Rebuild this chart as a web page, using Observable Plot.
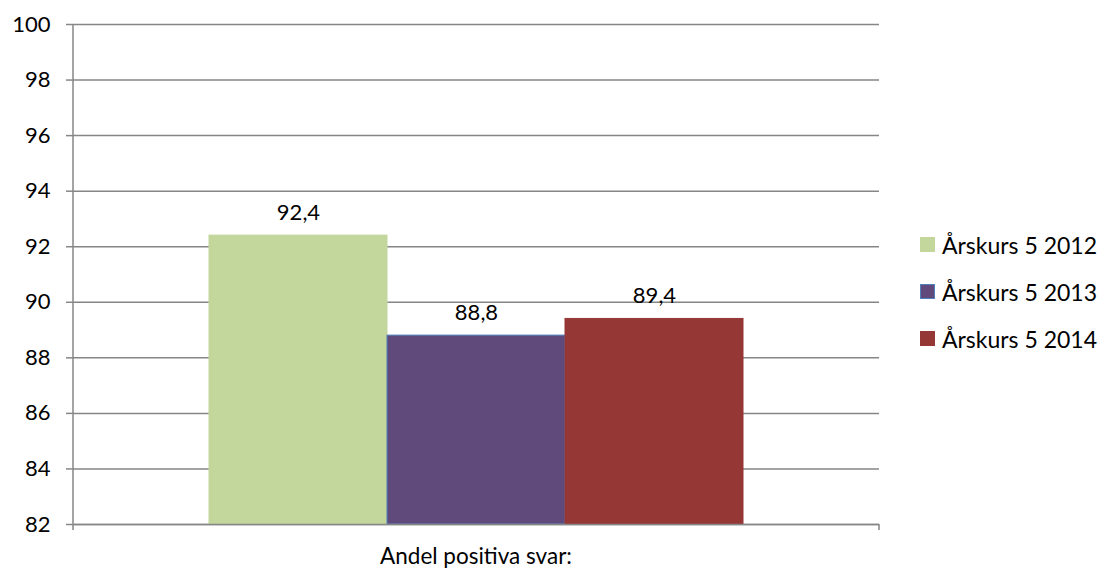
<!DOCTYPE html>
<html>
<head>
<meta charset="utf-8">
<script src="https://cdn.jsdelivr.net/npm/d3@7"></script>
<script src="https://cdn.jsdelivr.net/npm/@observablehq/plot@0.6"></script>
<style>
  html, body { margin: 0; padding: 0; background: #fff; overflow: hidden; }
  #wrap { position: relative; width: 1104px; height: 571px; font-family: Lato, "Open Sans", sans-serif; overflow: hidden; }
  #chart svg { display: block; }
  #legend { position: absolute; left: 920px; top: 221px; font-size: 23px; color: #000; }
  .item { display: flex; align-items: center; height: 47px; white-space: nowrap; }
  .sw { width: 15px; height: 15px; margin-right: 7px; box-sizing: border-box; }
  #xlabel { position: absolute; left: 73px; width: 806px; top: 544px; text-align: center; font-size: 22.5px; line-height: 24px; color: #000; }
</style>
</head>
<body>
<div id="wrap"><div id="chart"></div><div id="legend"></div><div id="xlabel">Andel positiva svar:</div></div>
<script>
const series = ["Årskurs 5 2012", "Årskurs 5 2013", "Årskurs 5 2014"];
const values = [92.4, 88.8, 89.4];
const labels = ["92,4", "88,8", "89,4"];
const colors = ["#C3D69B", "#604A7B", "#953735"];
const strokes = ["#C3D69B", "#4F81BD", "#953735"];
const yTicks = [82, 84, 86, 88, 90, 92, 94, 96, 98, 100];

const data = series.map((s, i) => ({series: s, value: values[i], label: labels[i]}));

const W = 1104, H = 571, mL = 73, mR = 225, mT = 24, mB = 47;

const chart = Plot.plot({
  width: W, height: H,
  marginLeft: mL, marginRight: mR, marginTop: mT, marginBottom: mB,
  style: {fontFamily: "Lato, 'Open Sans', sans-serif", fontSize: "22px", color: "#000", background: "#fff", overflow: "visible"},
  x: {domain: series, range: [208, 744], padding: 0, axis: null},
  y: {domain: [82, 100], ticks: yTicks},
  color: {domain: series, range: colors},
  marks: [
    Plot.gridY(yTicks, {stroke: "#868686", strokeOpacity: 1, strokeWidth: 1.5}),
    Plot.barY(data, {x: "series", y1: 82, y2: "value", fill: "series", stroke: (d, i) => strokes[i], strokeWidth: 1}),
    Plot.text(data, {x: "series", y: "value", text: "label", dy: -23, fontSize: 22, fill: "#000"}),
    Plot.axisY(yTicks, {tickSize: 7, tickPadding: 16, stroke: "#868686", strokeWidth: 1.5, fontSize: 22, label: null, tickFormat: d => String(d)}),
    Plot.ruleY([82], {stroke: "#868686", strokeWidth: 1.5})
  ]
});

const svg = d3.select(chart);
svg.append("line").attr("x1", mL).attr("x2", mL).attr("y1", mT).attr("y2", H - mB + 6).attr("stroke", "#868686").attr("stroke-width", 1.5);
svg.append("line").attr("x1", W - mR).attr("x2", W - mR).attr("y1", H - mB).attr("y2", H - mB + 6).attr("stroke", "#868686").attr("stroke-width", 1.5);

document.getElementById("chart").appendChild(chart);

const legend = document.getElementById("legend");
series.forEach((s, i) => {
  const item = document.createElement("div");
  item.className = "item";
  const sw = document.createElement("div");
  sw.className = "sw";
  sw.style.background = colors[i];
  sw.style.border = "1px solid " + strokes[i];
  const t = document.createElement("span");
  t.textContent = s;
  item.appendChild(sw); item.appendChild(t);
  legend.appendChild(item);
});
</script>
</body>
</html>
